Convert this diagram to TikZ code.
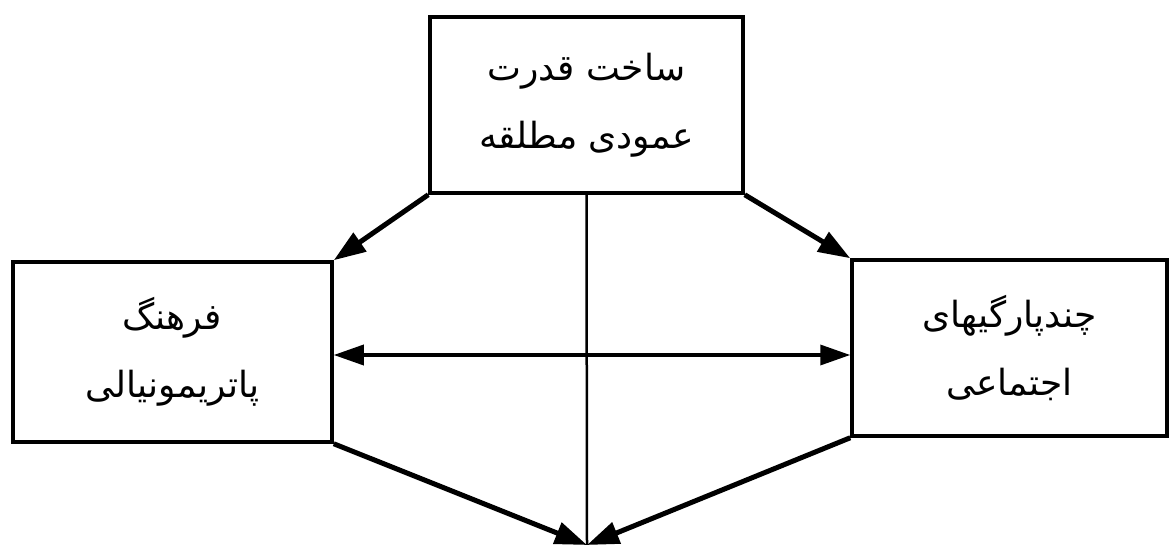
\documentclass[tikz,border=0pt]{standalone}
\usepackage{fontspec}
\newfontfamily\arabicfont[Script=Arabic]{DejaVu Sans}
\TeXXeTstate=1
\usetikzlibrary{arrows.meta}
\tikzset{
  box/.style={draw, line width=3.5pt, minimum width=#1, inner sep=0pt, align=center,
    font=\arabicfont\fontsize{36}{68}\selectfont},
  thickarrow/.style={line width=5pt, -{Triangle[length=32pt,width=22pt]}},
  midarrow/.style={line width=3.5pt, {Triangle[length=30pt,width=20pt]}-{Triangle[length=30pt,width=20pt]}},
  thinline/.style={line width=2.5pt}
}
\begin{document}
\begin{tikzpicture}[x=1pt,y=-1pt]
\useasboundingbox (0,0) rectangle (1170,545);
\node[box=313pt, minimum height=176pt] (top) at (586.5,105) {\beginR ساخت قدرت\endR\\\beginR عمودی مطلقه\endR};
\node[box=319pt, minimum height=180pt] (left) at (172.5,352) {\beginR فرهنگ\endR\\\beginR پاتریمونیالی\endR};
\node[box=315pt, minimum height=176pt] (right) at (1009.5,348) {\beginR چندپارگیهای\endR\\\beginR اجتماعی\endR};
\coordinate (bot) at (587,545);
\coordinate (mid) at (587,355);
\draw[thickarrow] (top.south west) -- (left.north east);
\draw[thickarrow] (top.south east) -- (right.north west);
\draw[thinline] (top.south) -- (bot);
\draw[midarrow] (left.east |- mid) -- (right.west |- mid);
\draw[thickarrow] (left.south east) -- (bot);
\draw[thickarrow] (right.south west) -- (bot);
\end{tikzpicture}
\end{document}
